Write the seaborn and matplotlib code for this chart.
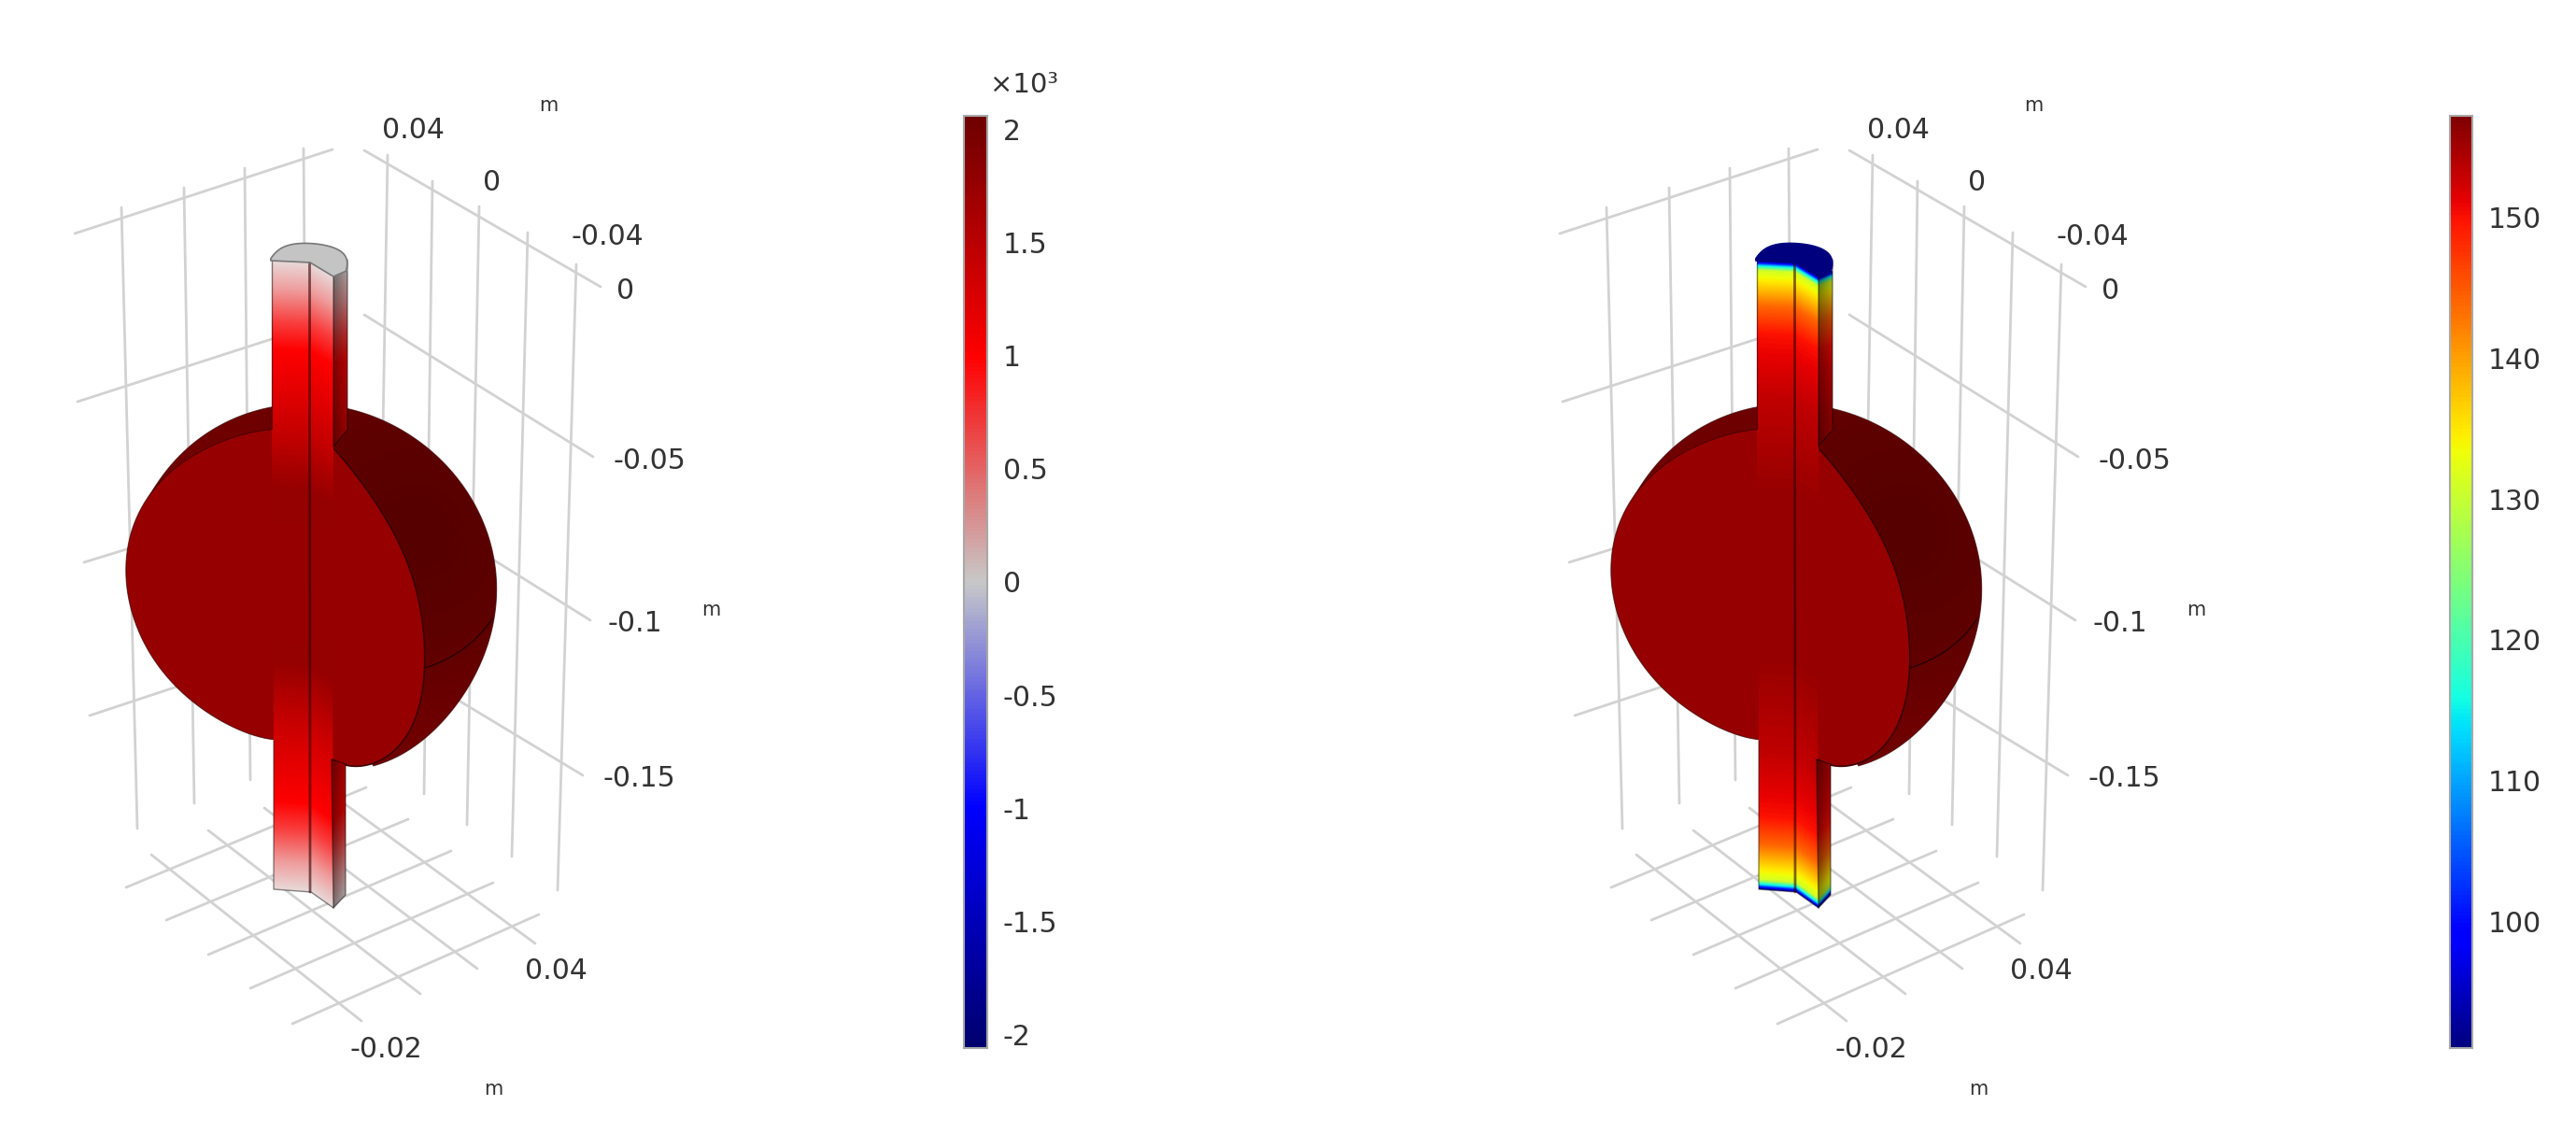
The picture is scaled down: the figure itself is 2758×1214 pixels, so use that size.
import numpy as np
import pandas as pd
import matplotlib
matplotlib.use("Agg")
import matplotlib.pyplot as plt
import seaborn as sns
from matplotlib.colors import LinearSegmentedColormap, Normalize
from matplotlib.patches import Polygon

sns.set_theme(style="white")
plt.rcParams["font.family"] = ["DejaVu Sans"]

W, H = 2758, 1214
PANEL_SHIFT = 1590
TEXT = "#333333"

# colour bars
stress_ticks = [2, 1.5, 1, 0.5, 0, -0.5, -1, -1.5, -2]
stress_labels = ["2", "1.5", "1", "0.5", "0", "-0.5", "-1", "-1.5", "-2"]
stress_range = [-2.06, 2.06]
temp_ticks = [150, 140, 130, 120, 110, 100]
temp_labels = ["150", "140", "130", "120", "110", "100"]
temp_range = [91.0, 157.2]

# field along the stems, by distance from the stem end (px in the picture)
stem_dist = [0, 30, 65, 95, 140, 190, 245]
stress_field = [0.03, 0.3, 0.72, 1.0, 1.2, 1.45, 1.77]
temp_dist = [0, 2, 5, 10, 25, 48, 78, 150, 245]
temp_field = [92, 100, 115, 131, 136, 144, 150, 153.5, 155.7]

# axis labels of the 3D box: text, x, y
box_labels = ["0.04", "0", "-0.04", "0", "-0.05", "-0.1", "-0.15", "0.04", "-0.02"]
box_label_x = [442, 527, 650, 670, 695, 680, 684, 595, 413]
box_label_y = [139, 195, 253, 311, 493, 667, 833, 1040, 1123]
unit_x = [587, 761, 528]
unit_y = [113, 653, 1166]

# grid lines of the 3D box as x0, y0, x1, y1
grid_segments = [
    (80, 250, 356, 160), (83, 430, 356, 342), (90, 602, 356, 520), (96, 766, 356, 680),
    (130, 222, 147, 887), (197, 201, 208, 860), (262, 180, 268, 835), (325, 159, 330, 810),
    (390, 161, 643, 307), (390, 337, 635, 489), (390, 513, 632, 664), (390, 689, 624, 830),
    (415, 166, 404, 815), (463, 194, 454, 850), (513, 221, 500, 883), (565, 249, 548, 917),
    (617, 283, 597, 953),
    (135, 950, 392, 843), (178, 985, 437, 877), (223, 1022, 483, 911), (268, 1058, 528, 945),
    (313, 1096, 577, 979),
    (162, 915, 387, 1093), (223, 889, 450, 1064), (283, 865, 511, 1037), (345, 843, 573, 1010),
]

# outlines of the body
back_outline = [(156, 538), (173, 510), (200, 482), (230, 458), (260, 443), (292, 437), (332, 433), (372, 437),
                (400, 445), (437, 465), (470, 492), (500, 527), (520, 563), (530, 607), (533, 637), (527, 667),
                (517, 700), (500, 740), (473, 773), (447, 797), (420, 812), (400, 820)]
disc_outline = [(293, 460), (267, 463), (243, 470), (220, 482), (198, 495), (173, 512), (153, 540),
                (140, 573), (136, 607), (137, 640), (142, 660), (152, 683), (168, 710), (187, 733),
                (210, 755), (237, 772), (267, 785), (293, 792)]
right_face = [(356, 479), (380, 507), (403, 540), (423, 573), (440, 613), (450, 653), (455, 693),
              (453, 730), (447, 763), (433, 790), (413, 812), (390, 819), (367, 818), (356, 813)]
equator = [(455, 715), (483, 703), (510, 683), (527, 662)]
cap_outline = [(290, 277), (300, 266), (332, 261), (360, 266), (372, 278), (370, 290)]
top_end_x, top_end_y = [291, 332, 357, 372], [279, 281, 296, 290]
bottom_end_x, bottom_end_y = [293, 333, 357, 370], [952, 955, 972, 958]


def smooth(points, degree=6, n=160):
    # traced points are a bit noisy, so fit a low order curve along the outline
    pts = np.array(points, dtype=float)
    t = np.r_[0, np.cumsum(np.hypot(*np.diff(pts, axis=0).T))]
    t /= t[-1]
    tt = np.linspace(0, 1, n)
    degree = min(degree, len(pts) - 1)
    return np.c_[np.polyval(np.polyfit(t, pts[:, 0], degree), tt),
                 np.polyval(np.polyfit(t, pts[:, 1], degree), tt)]


def shifted(points, dx):
    return np.asarray(points, dtype=float) + [dx, 0]


def draw_grid(ax, dx):
    rows = []
    for i, (x0, y0, x1, y1) in enumerate(grid_segments):
        rows.append({"line": i, "x": x0 + dx, "y": y0})
        rows.append({"line": i, "x": x1 + dx, "y": y1})
    sns.lineplot(data=pd.DataFrame(rows), x="x", y="y", units="line", estimator=None, sort=False,
                 color="#d2d2d2", linewidth=2.0, legend=False, ax=ax, zorder=1)


def stem_image(ax, dx, xr, yr, end_x, end_y, dist, field, cmap, norm, clip, shade=None):
    xs = np.arange(xr[0], xr[1] + 1)
    ys = np.arange(yr[0], yr[1] + 1)
    ends = np.interp(xs, end_x, end_y)
    s = np.abs(ys[:, None] - ends[None, :])
    rgb = cmap(norm(np.interp(s, dist, field)))[..., :3]
    if shade is not None:
        rgb = rgb * np.interp(xs, [xr[0], xr[1]], shade)[None, :, None]
    im = ax.imshow(rgb, extent=(xr[0] + dx, xr[1] + dx, yr[1], yr[0]), aspect="auto",
                   interpolation="bilinear", zorder=5)
    im.set_clip_path(Polygon(shifted(clip, dx), closed=True, transform=ax.transData))


def back_image(ax, dx, clip):
    # the rear surface is darkest in the middle and lighter toward its rim
    xs = np.arange(150, 540)
    ys = np.arange(425, 830)
    r = np.hypot(xs[None, :] - 445, ys[:, None] - 570)
    level = np.interp(r, [40, 120, 200, 300], [0.345, 0.37, 0.43, 0.45])
    rgb = np.zeros((len(ys), len(xs), 3))
    rgb[..., 0] = level
    im = ax.imshow(rgb, extent=(xs[0] + dx, xs[-1] + dx, ys[-1], ys[0]), aspect="auto",
                   interpolation="bilinear", zorder=3)
    im.set_clip_path(Polygon(shifted(clip, dx), closed=True, transform=ax.transData))


def draw_body(ax, dx, dist, field, stem_cmap, norm, body_value, cap_color, cap_edge):
    face = stem_cmap(norm(body_value))
    edge = "#3c0000"
    back = smooth(back_outline, degree=8)
    back_image(ax, dx, back)
    ax.plot(*shifted(back, dx).T, color="#3a0000", lw=0.8, alpha=0.7, zorder=3)
    arc = smooth(disc_outline, degree=7)
    disc = np.vstack([arc, [(356, 813), (356, 479)]])
    ax.add_patch(Polygon(shifted(disc, dx), closed=True, fc=face, ec="none", zorder=4))
    ax.plot(*shifted(arc, dx).T, color=edge, lw=0.8, alpha=0.7, zorder=4)
    front_right = smooth(right_face, degree=7)
    ax.add_patch(Polygon(shifted(front_right, dx), closed=True, fc=face, ec="none", zorder=4))
    ax.plot(*shifted(front_right, dx).T, color=edge, lw=1.2, zorder=4)
    ax.plot(*shifted(smooth(equator, degree=3), dx).T, color="#2a0000", lw=1.1, zorder=4)

    # upper stem
    front = [(291, 279), (332, 281), (357, 296), (357, 560), (291, 560)]
    side = [(357, 296), (372, 290), (372, 460), (357, 478)]
    stem_image(ax, dx, (291, 357), (270, 565), top_end_x, top_end_y, dist, field, stem_cmap, norm, front)
    stem_image(ax, dx, (357, 372), (280, 480), top_end_x, top_end_y, dist, field, stem_cmap, norm, side, (0.5, 0.72))

    # lower stem
    front = [(293, 690), (356, 690), (357, 972), (333, 955), (293, 952)]
    side = [(355, 813), (370, 818), (370, 958), (357, 972)]
    stem_image(ax, dx, (293, 357), (685, 975), bottom_end_x, bottom_end_y, dist, field, stem_cmap, norm, front)
    stem_image(ax, dx, (355, 370), (810, 975), bottom_end_x, bottom_end_y, dist, field, stem_cmap, norm, side, (0.5, 0.72))

    # stem edges
    for seg in ([(291, 279), (291, 459)], [(293, 793), (293, 952), (333, 955), (357, 972), (370, 958), (370, 818)],
                [(372, 278), (372, 460), (357, 478), (357, 296)], [(355, 813), (357, 972)],
                [(355, 813), (370, 818)]):
        ax.plot(*shifted(seg, dx).T, color="black", alpha=0.45, lw=1, zorder=6)
    ax.plot([331.5 + dx, 332 + dx], [281, 955], color="#300000", alpha=0.6, lw=2.0, zorder=6)

    # end cap
    cap = np.vstack([smooth(cap_outline, degree=4, n=40), [(357, 296), (332, 281), (290, 279)]])
    ax.add_patch(Polygon(shifted(cap, dx), closed=True, fc=cap_color, ec=cap_edge, lw=1.2, zorder=7))


def draw_labels(ax, dx):
    for text, x, y in zip(box_labels, box_label_x, box_label_y):
        ax.text(x + dx, y, text, ha="center", va="center", fontsize=21.5, color=TEXT, zorder=8)
    for x, y in zip(unit_x, unit_y):
        ax.text(x + dx, y, "m", ha="center", va="center", fontsize=15, color=TEXT, zorder=8)


def draw_colorbar(fig, box, cmap, vrange, ticks, labels):
    x0, y0, x1, y1 = box
    cax = fig.add_axes([x0 / W, 1 - y1 / H, (x1 - x0) / W, (y1 - y0) / H])
    vmin, vmax = vrange
    n = 500
    grad = pd.DataFrame(np.linspace(vmax, vmin, n)[:, None])
    sns.heatmap(grad, cmap=cmap, vmin=vmin, vmax=vmax, cbar=False, xticklabels=False,
                yticklabels=False, ax=cax)
    cax.set_yticks([(vmax - t) / (vmax - vmin) * n for t in ticks])
    cax.set_yticklabels(labels, rotation=0, fontsize=21.5, color=TEXT)
    cax.tick_params(axis="y", direction="in", left=True, right=True, labelleft=False, labelright=True,
                    length=5, width=1.2, color="#555555", pad=12)
    for spine in cax.spines.values():
        spine.set_visible(True)
        spine.set_color("#a8a8a8")
        spine.set_linewidth(1.5)
    return cax


def main():
    stress_map = LinearSegmentedColormap.from_list("stress", [
        (0.0, "#00006e"), ((-1 + 2.06) / 4.12, "#0000ff"), (0.5, "#c8c8c8"),
        ((1 + 2.06) / 4.12, "#ff0000"), (1.0, "#6e0000")])
    stem_map = LinearSegmentedColormap.from_list("stress_stem", [
        (0.0, "#00006e"), ((-1 + 2.06) / 4.12, "#0000ff"), (0.5, "#e8e0e0"),
        ((1 + 2.06) / 4.12, "#ff0000"), (1.0, "#6e0000")])
    jet = plt.get_cmap("jet")

    fig = plt.figure(figsize=(W / 100, H / 100), dpi=100)
    ax = fig.add_axes([0, 0, 1, 1])
    ax.set_xlim(0, W)
    ax.set_ylim(H, 0)

    # left panel
    draw_grid(ax, 0)
    draw_body(ax, 0, stem_dist, stress_field, stem_map, Normalize(*stress_range), 1.77, "#c4c4c4", "#777777")
    draw_labels(ax, 0)

    # right panel
    draw_grid(ax, PANEL_SHIFT)
    draw_body(ax, PANEL_SHIFT, temp_dist, temp_field, jet, Normalize(*temp_range), 155.7, "#00007f", "#00007f")
    draw_labels(ax, PANEL_SHIFT)

    ax.set_xlim(0, W)
    ax.set_ylim(H, 0)
    ax.axis("off")

    draw_colorbar(fig, (1032, 124, 1057, 1122), stress_map, stress_range, stress_ticks, stress_labels)
    draw_colorbar(fig, (2623, 124, 2647, 1122), jet, temp_range, temp_ticks, temp_labels)
    fig.text(1097 / W, 1 - 91 / H, "×10³", ha="center", va="center", fontsize=21, color=TEXT)

    fig.savefig("out.png", dpi=100, facecolor="white")
    plt.close(fig)


if __name__ == "__main__":
    main()
